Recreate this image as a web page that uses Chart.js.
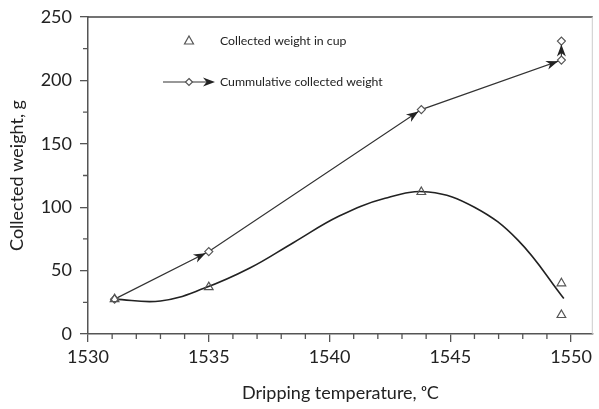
<!DOCTYPE html>
<html>
<head>
<meta charset="utf-8">
<script src="https://cdn.jsdelivr.net/npm/chart.js@4"></script>
<style>
  html, body { margin: 0; padding: 0; background: #fff; }
  #wrap { width: 599px; height: 409px; }
</style>
</head>
<body>
<div id="wrap"><canvas id="chart"></canvas></div>
<script>
// data
const cupTemp = [1531.1, 1535.0, 1543.8, 1549.6, 1549.6];
const cupWeight = [27.5, 37, 112, 40, 15];

const cumTemp = [1531.1, 1535.0, 1543.8, 1549.6, 1549.6];
const cumWeight = [27.5, 65, 177, 216, 231];

// trend curve through the cup points
const fitTemp = [1531.1, 1533.0, 1534.8, 1536.7, 1538.5, 1540.4, 1542.3, 1544.1, 1546.0, 1547.8, 1549.7];
const fitWeight = [27.5, 26, 36, 52, 72, 93, 107, 112, 100, 74, 28];

const xTickLabels = [1530, 1535, 1540, 1545, 1550];
const xMinorTicks = [1531, 1532, 1533, 1534, 1536, 1537, 1538, 1539, 1541, 1542, 1543, 1544, 1546, 1547, 1548, 1549];
const yTickLabels = [0, 50, 100, 150, 200, 250];
const yMinorTicks = [25, 75, 125, 175, 225];

const FONT = 'Lato, "Open Sans", sans-serif';

function toPts(xs, ys) {
    return xs.map((x, i) => ({x: x, y: ys[i]}));
}

function arrowHead(ctx, tx, ty, ux, uy, len, half) {
    // stealth style arrow, tip at (tx,ty), pointing along (ux,uy)
    const bx = tx - ux * len, by = ty - uy * len;
    const nx = -uy, ny = ux;
    ctx.beginPath();
    ctx.moveTo(tx, ty);
    ctx.lineTo(bx + nx * half, by + ny * half);
    ctx.lineTo(tx - ux * len * 0.7, ty - uy * len * 0.7);
    ctx.lineTo(bx - nx * half, by - ny * half);
    ctx.closePath();
    ctx.fill();
}

const extras = {
    id: 'extras',
    afterDraw(chart) {
        const ctx = chart.ctx;
        const a = chart.chartArea;
        const xs = chart.scales.x, ys = chart.scales.y;
        ctx.save();

        // frame top and right
        ctx.strokeStyle = '#444';
        ctx.lineWidth = 1.5;
        ctx.beginPath();
        ctx.moveTo(a.left, a.top);
        ctx.lineTo(a.right, a.top);
        ctx.stroke();
        ctx.strokeStyle = '#ccc';
        ctx.lineWidth = 1;
        ctx.beginPath();
        ctx.moveTo(a.right - 0.5, a.top);
        ctx.lineTo(a.right - 0.5, a.bottom);
        ctx.stroke();

        // minor ticks
        ctx.strokeStyle = '#555';
        ctx.lineWidth = 1.3;
        ctx.beginPath();
        xMinorTicks.forEach(v => {
            const px = xs.getPixelForValue(v);
            ctx.moveTo(px, a.bottom);
            ctx.lineTo(px, a.bottom + 5);
        });
        yMinorTicks.forEach(v => {
            const py = ys.getPixelForValue(v);
            ctx.moveTo(a.left, py);
            ctx.lineTo(a.left - 5, py);
        });
        ctx.stroke();

        // arrows on the cumulative line
        const meta = chart.getDatasetMeta(2);
        ctx.fillStyle = '#222';
        for (let i = 1; i < meta.data.length; i++) {
            const p0 = meta.data[i - 1], p1 = meta.data[i];
            const dx = p1.x - p0.x, dy = p1.y - p0.y;
            const d = Math.hypot(dx, dy);
            if (d < 1) continue;
            const ux = dx / d, uy = dy / d;
            arrowHead(ctx, p1.x - ux * 3.5, p1.y - uy * 3.5, ux, uy, 12, 4.5);
        }

        // legend
        ctx.strokeStyle = '#555';
        ctx.lineWidth = 1.2;
        ctx.beginPath();
        ctx.moveTo(189, 36);
        ctx.lineTo(193.5, 44);
        ctx.lineTo(184.5, 44);
        ctx.closePath();
        ctx.stroke();

        ctx.strokeStyle = '#333';
        ctx.lineWidth = 1.2;
        ctx.beginPath();
        ctx.moveTo(163, 82);
        ctx.lineTo(208, 82);
        ctx.stroke();
        ctx.fillStyle = '#fff';
        ctx.strokeStyle = '#555';
        ctx.beginPath();
        ctx.moveTo(189, 78.5);
        ctx.lineTo(192.5, 82);
        ctx.lineTo(189, 85.5);
        ctx.lineTo(185.5, 82);
        ctx.closePath();
        ctx.fill();
        ctx.stroke();
        ctx.fillStyle = '#222';
        arrowHead(ctx, 215, 82, 1, 0, 12, 4.5);

        ctx.fillStyle = '#222';
        ctx.font = '12.3px ' + FONT;
        ctx.textBaseline = 'middle';
        ctx.fillText('Collected weight in cup', 220, 41);
        ctx.fillText('Cummulative collected weight', 220, 82);

        ctx.restore();
    }
};

new Chart(document.getElementById('chart'), {
    type: 'scatter',
    data: {
        datasets: [
            {
                label: 'Collected weight in cup',
                data: toPts(cupTemp, cupWeight),
                pointStyle: 'triangle',
                pointRadius: 5,
                pointBorderWidth: 1.2,
                pointBorderColor: '#555',
                pointBackgroundColor: 'rgba(255,255,255,0)',
                showLine: false,
                order: 1
            },
            {
                label: 'fit',
                data: toPts(fitTemp, fitWeight),
                showLine: true,
                borderColor: '#222',
                borderWidth: 1.6,
                pointRadius: 0,
                tension: 0.4,
                order: 3
            },
            {
                label: 'Cummulative collected weight',
                data: toPts(cumTemp, cumWeight),
                showLine: true,
                borderColor: '#333',
                borderWidth: 1.2,
                pointStyle: 'rectRot',
                pointRadius: 4,
                pointBorderWidth: 1.2,
                pointBorderColor: '#555',
                pointBackgroundColor: '#fff',
                order: 2
            }
        ]
    },
    options: {
        responsive: true,
        maintainAspectRatio: false,
        animation: false,
        layout: { padding: { top: 12, right: 2, left: 0, bottom: 0 } },
        plugins: {
            legend: { display: false },
            tooltip: { enabled: false }
        },
        scales: {
            x: {
                type: 'linear',
                min: 1530,
                max: 1550.9,
                afterBuildTicks: s => { s.ticks = xTickLabels.map(v => ({value: v})); },
                afterFit: s => { s.height = 75; },
                grid: { display: true, drawOnChartArea: false, drawTicks: true, tickLength: 8, color: '#555', lineWidth: 1.3 },
                border: { display: true, color: '#555', width: 1.5 },
                ticks: { font: { family: FONT, size: 18 }, color: '#222', padding: 4, maxRotation: 0, callback: v => String(v) },
                title: {
                    display: true,
                    text: 'Dripping temperature, ᵒC',
                    font: { family: FONT, size: 18 },
                    color: '#222',
                    padding: { top: 0, bottom: 5 }
                }
            },
            y: {
                min: 0,
                max: 250,
                afterBuildTicks: s => { s.ticks = yTickLabels.map(v => ({value: v})); },
                afterFit: s => { s.width = 88; },
                grid: { display: true, drawOnChartArea: false, drawTicks: true, tickLength: 8, color: '#555', lineWidth: 1.3 },
                border: { display: true, color: '#555', width: 1.5 },
                ticks: { font: { family: FONT, size: 18, lineHeight: 1 }, color: '#222', padding: 8, callback: v => String(v) },
                title: {
                    display: true,
                    text: 'Collected weight, g',
                    font: { family: FONT, size: 18 },
                    color: '#222',
                    padding: { top: 6, bottom: 0 }
                }
            }
        }
    },
    plugins: [extras]
});
</script>
</body>
</html>
